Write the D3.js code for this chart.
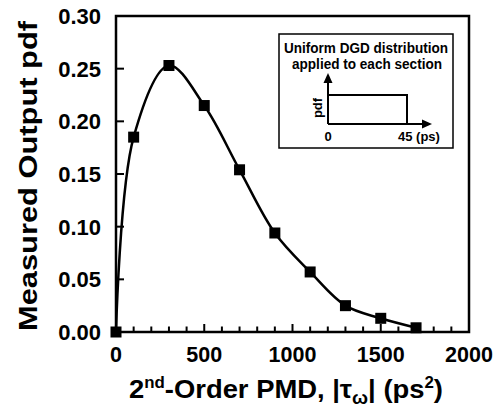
<!DOCTYPE html>
<html><head><meta charset="utf-8">
<script src="https://cdn.jsdelivr.net/npm/d3@7"></script>
<style>
html,body{margin:0;padding:0;background:#fff;}
text{font-family:"Liberation Sans",Arial,sans-serif;font-weight:bold;fill:#000;}
</style></head>
<body>
<svg id="chart" width="500" height="418"></svg>
<script>
const pmd = [0, 100, 300, 500, 700, 900, 1100, 1300, 1500, 1700];
const pdfValues = [0, 0.185, 0.253, 0.215, 0.154, 0.094, 0.057, 0.025, 0.013, 0.004];
const xTickValues = [0, 500, 1000, 1500, 2000];
const yTickValues = [0.00, 0.05, 0.10, 0.15, 0.20, 0.25, 0.30];
const yLabel = "Measured Output pdf";
const insetLines = ["Uniform DGD distribution", "applied to each section"];

const svg = d3.select("#chart");
const L = 116, R = 469, T = 16, B = 332;
const x = d3.scaleLinear().domain([0, 2000]).range([L, R]);
const y = d3.scaleLinear().domain([0, 0.30]).range([B, T]);

// frame
svg.append("rect").attr("x", L).attr("y", T).attr("width", R - L).attr("height", B - T)
  .attr("fill", "none").attr("stroke", "#000").attr("stroke-width", 2.5);

// x ticks (inward)
const minorX = d3.range(0, 2001, 100);
svg.append("g").selectAll("line").data(minorX).join("line")
  .attr("x1", d => x(d)).attr("x2", d => x(d))
  .attr("y1", B).attr("y2", d => B - (d % 500 === 0 ? 8 : 5.5))
  .attr("stroke", "#000").attr("stroke-width", 2);
svg.append("g").selectAll("text").data(xTickValues).join("text")
  .attr("x", d => x(d)).attr("y", 362).attr("text-anchor", "middle")
  .attr("font-size", 21.5).text(d => d);

// y ticks (inward)
svg.append("g").selectAll("line").data(yTickValues).join("line")
  .attr("x1", L).attr("x2", L + 8)
  .attr("y1", d => y(d)).attr("y2", d => y(d))
  .attr("stroke", "#000").attr("stroke-width", 2);
svg.append("g").selectAll("text").data(yTickValues).join("text")
  .attr("x", 101).attr("y", d => y(d) + 8).attr("text-anchor", "end")
  .attr("font-size", 22).text(d => d.toFixed(2));

// y label
svg.append("text").attr("transform", "translate(37,176) rotate(-90)")
  .attr("text-anchor", "middle").attr("font-size", 26)
  .attr("textLength", 310).attr("lengthAdjust", "spacingAndGlyphs")
  .text(yLabel);

// x label
const xl = svg.append("text").attr("x", 286).attr("y", 398).attr("text-anchor", "middle")
  .attr("font-size", 26).attr("textLength", 314).attr("lengthAdjust", "spacingAndGlyphs");
xl.append("tspan").text("2");
xl.append("tspan").attr("font-size", 16).attr("dy", -10).text("nd");
xl.append("tspan").attr("dy", 10).text("-Order PMD, |τ");
xl.append("tspan").attr("font-size", 18).attr("dy", 6).text("ω");
xl.append("tspan").attr("dy", -6).text("| (ps");
xl.append("tspan").attr("font-size", 16).attr("dy", -10).text("2");
xl.append("tspan").attr("dy", 10).text(")");

// curve
const pts = pmd.map((d, i) => [d, pdfValues[i]]);
const line = d3.line().x(d => x(d[0])).y(d => y(d[1])).curve(d3.curveCatmullRom.alpha(0.5));
svg.append("path").attr("d", line(pts)).attr("fill", "none")
  .attr("stroke", "#000").attr("stroke-width", 2.5);

// markers
const ms = 11;
svg.append("g").selectAll("rect").data(pts).join("rect")
  .attr("x", d => x(d[0]) - ms / 2).attr("y", d => y(d[1]) - ms / 2)
  .attr("width", ms).attr("height", ms).attr("fill", "#000");

// inset
const ins = svg.append("g");
ins.append("rect").attr("x", 279).attr("y", 34).attr("width", 174).attr("height", 114)
  .attr("fill", "#fff").attr("stroke", "#000").attr("stroke-width", 1.5);
ins.append("text").attr("x", 366).attr("y", 53).attr("text-anchor", "middle")
  .attr("font-size", 14).attr("textLength", 164).attr("lengthAdjust", "spacingAndGlyphs")
  .text(insetLines[0]);
ins.append("text").attr("x", 367).attr("y", 69).attr("text-anchor", "middle")
  .attr("font-size", 14).attr("textLength", 150).attr("lengthAdjust", "spacingAndGlyphs")
  .text(insetLines[1]);
// inset axes
ins.append("line").attr("x1", 328).attr("x2", 328).attr("y1", 124).attr("y2", 82)
  .attr("stroke", "#000").attr("stroke-width", 2);
ins.append("path").attr("d", "M328,73 L323.5,83 L332.5,83 Z").attr("fill", "#000");
ins.append("line").attr("x1", 328).attr("x2", 423).attr("y1", 124).attr("y2", 124)
  .attr("stroke", "#000").attr("stroke-width", 2);
ins.append("path").attr("d", "M432,124 L422,119.5 L422,128.5 Z").attr("fill", "#000");
ins.append("polyline").attr("points", "328,95 407,95 407,124")
  .attr("fill", "none").attr("stroke", "#000").attr("stroke-width", 2);
ins.append("text").attr("transform", "translate(322,108) rotate(-90)")
  .attr("text-anchor", "middle").attr("font-size", 13).text("pdf");
ins.append("text").attr("x", 328).attr("y", 141).attr("text-anchor", "middle")
  .attr("font-size", 13).text("0");
ins.append("text").attr("x", 398).attr("y", 141).attr("text-anchor", "start")
  .attr("font-size", 13).text("45 (ps)");
</script>
</body></html>
